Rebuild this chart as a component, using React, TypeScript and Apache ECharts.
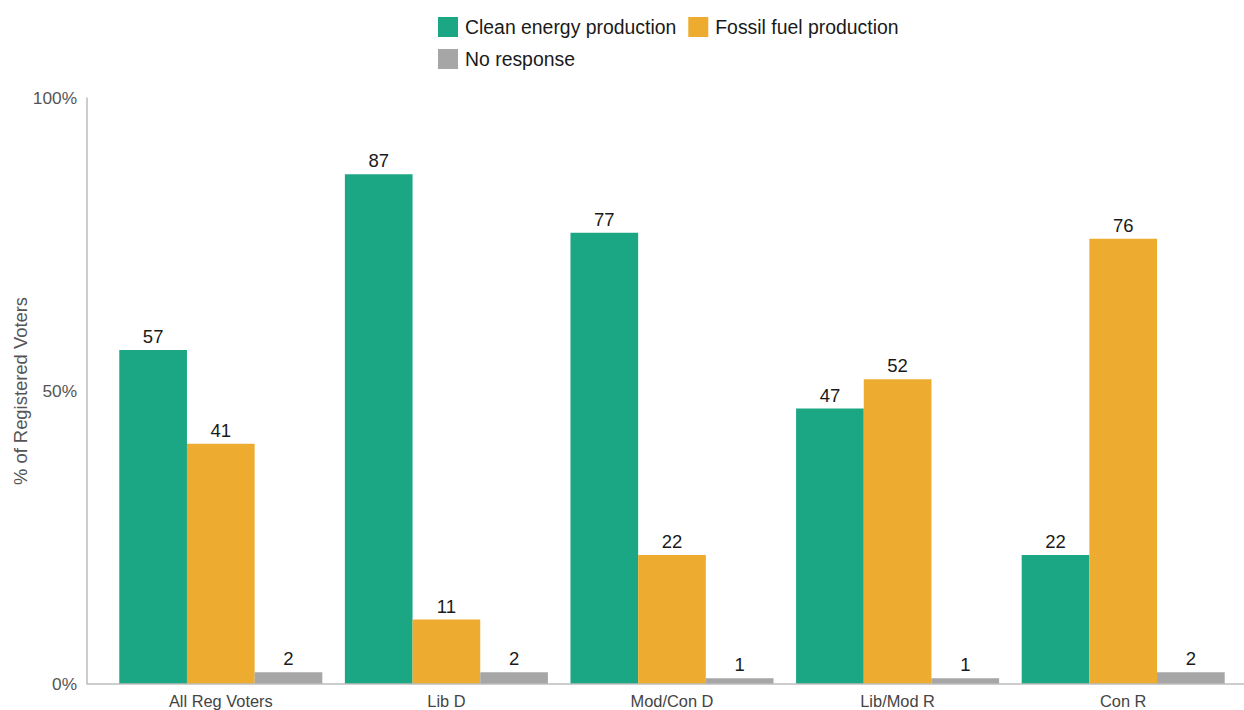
import React, { useEffect, useRef } from "react";
import * as echarts from "echarts";

const categories = ["All Reg Voters", "Lib D", "Mod/Con D", "Lib/Mod R", "Con R"];
const cleanEnergy = [57, 87, 77, 47, 22];
const fossilFuel = [41, 11, 22, 52, 76];
const noResponse = [2, 2, 1, 1, 2];
const seriesNames = ["Clean energy production", "Fossil fuel production", "No response"];
const colors = ["#1ba784", "#edac2f", "#a6a6a6"];

export default function App() {
  const ref = useRef<HTMLDivElement>(null);
  useEffect(() => {
    document.body.style.margin = "0";
    const chart = echarts.init(ref.current!, null, { renderer: "svg" });
    const font = "'Liberation Sans', Arial, sans-serif";
    const label = {
      show: true,
      position: "top" as const,
      distance: 4,
      color: "#1a1a1a",
      fontSize: 18.5,
      fontFamily: font,
    };
    chart.setOption({
      animation: false,
      textStyle: { fontFamily: font },
      legend: {
        left: 433,
        top: 12,
        width: 500,
        itemWidth: 20,
        itemHeight: 20,
        itemGap: 12,
        icon: "rect",
        textStyle: { fontSize: 19.4, color: "#1a1a1a", fontFamily: font, padding: [0, 0, 0, 2] },
        data: seriesNames,
      },
      grid: { left: 108, right: 8, top: 98, bottom: 26, outerBoundsMode: "none", containLabel: false },
      xAxis: {
        type: "category",
        data: categories,
        axisLine: { show: false },
        axisTick: { show: false },
        axisLabel: { color: "#444", fontSize: 16.4, margin: 9, fontFamily: font },
      },
      yAxis: {
        type: "value",
        min: 0,
        max: 100,
        interval: 50,
        offset: 21,
        name: "% of Registered Voters",
        nameLocation: "middle",
        nameGap: 58,
        nameMoveOverlap: false,
        nameTextStyle: { color: "#555", fontSize: 18.4, fontFamily: font },
        axisLine: { show: true, lineStyle: { color: "#bdbdbd", width: 1.5 } },
        axisTick: { show: false },
        splitLine: { show: false },
        axisLabel: { formatter: "{value}%", color: "#555", fontSize: 17.3, margin: 10, fontFamily: font },
      },
      graphic: [
        {
          type: "line",
          shape: { x1: 87, y1: 684, x2: 1244, y2: 684 },
          style: { stroke: "#bdbdbd", lineWidth: 1.5 },
          z: 10,
        },
      ],
      series: [cleanEnergy, fossilFuel, noResponse].map((d, i) => ({
        name: seriesNames[i],
        type: "bar",
        data: d,
        barGap: "0%",
        barCategoryGap: "10%",
        itemStyle: { color: colors[i] },
        label,
      })),
    });
    return () => chart.dispose();
  }, []);
  return <div ref={ref} style={{ width: 1244, height: 710 }} />;
}
